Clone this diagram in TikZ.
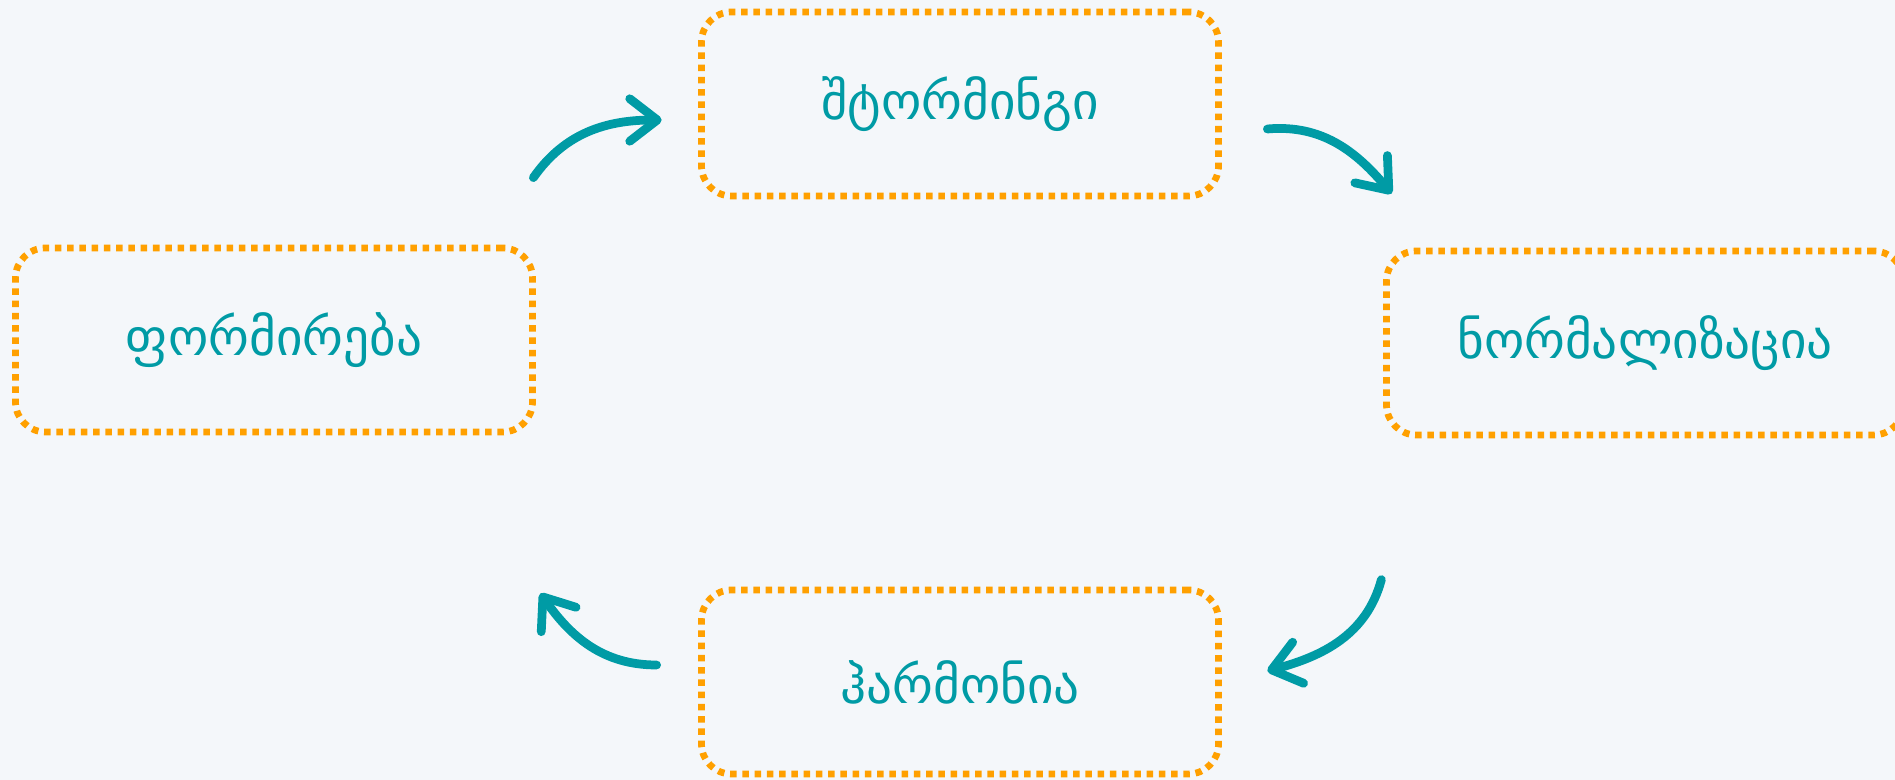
\documentclass[tikz,border=0pt]{standalone}
\usepackage{fontspec}
\newfontfamily\geofont{DejaVu Sans}
\usetikzlibrary{arrows.meta}
\definecolor{bgcol}{HTML}{F4F7FA}
\definecolor{dotorange}{HTML}{FFA000}
\definecolor{tealcol}{HTML}{009BA5}
\tikzset{
  phase/.style={draw=dotorange, line width=2.7pt, dash pattern=on 2.6pt off 2.3pt,
    rounded corners=12pt, minimum width=206.8pt, minimum height=73.6pt,
    text=tealcol, font=\geofont\fontsize{20.5}{24}\selectfont},
  cyclearrow/.style={draw=tealcol, line width=3.5pt, line cap=round,
    -{Straight Barb[length=11pt, width=17pt, round]}}
}
\begin{document}
\begin{tikzpicture}[x=0.4pt, y=0.4pt]
\fill[bgcol] (0,0) rectangle (1895,780);
\useasboundingbox (0,0) rectangle (1895,780);
% Define the nodes
\node (storm) [phase] at (960,676) {შტორმინგი};
\node (norm) [phase] at (1645,437) {ნორმალიზაცია};
\node (harm) [phase] at (960,98) {ჰარმონია};
\node (form) [phase] at (274,440) {ფორმირება};

% Connect the nodes
\draw[cyclearrow] ([shift={(-2.5,67)}]form.north east) to[out=55, in=180] ([shift={(-36.5,-16)}]storm.west);
\draw[cyclearrow] ([shift={(45.5,-25)}]storm.east) to[out=5, in=130] ([shift={(8.5,54)}]norm.north west);
\draw[cyclearrow] ([shift={(159.5,7)}]harm.north east) to[out=-105, in=15] ([shift={(45.5,11)}]harm.east);
\draw[cyclearrow] ([shift={(-41.5,17)}]harm.west) to[out=180, in=-55] ([shift={(4.5,-158)}]form.south east);
\end{tikzpicture}
\end{document}
